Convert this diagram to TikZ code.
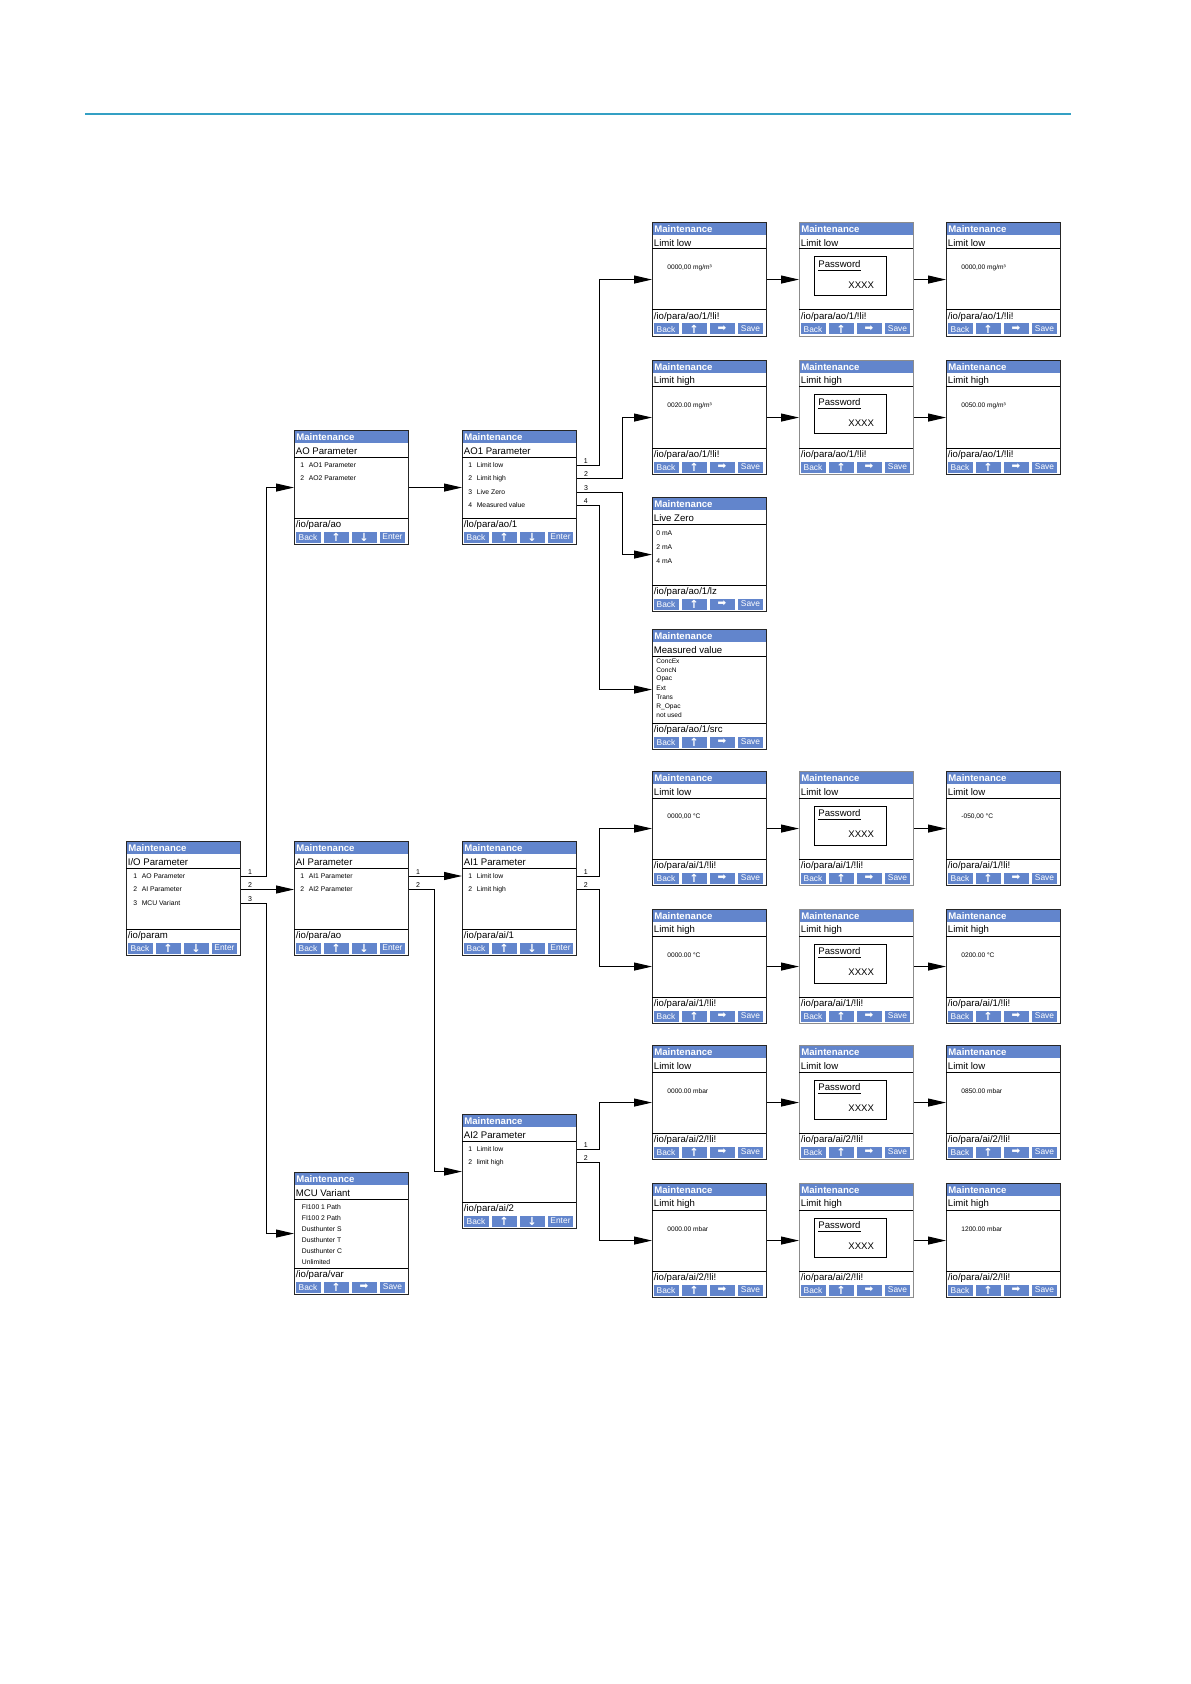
\documentclass[tikz,border=0pt]{standalone}
\usepackage{fontspec}
\setmainfont{Liberation Sans}
\newfontfamily\symfont{DejaVu Sans}
\usetikzlibrary{arrows.meta}
\definecolor{barblue}{RGB}{98,133,204}
\definecolor{rulecol}{RGB}{52,160,196}
\newcommand{\upkey}{{\symfont\bfseries\fontsize{5.6}{5}\selectfont ↑}}
\newcommand{\downkey}{{\symfont\bfseries\fontsize{5.6}{5}\selectfont ↓}}
\newcommand{\nextkey}{{\symfont\fontsize{5.2}{5}\selectfont ➡}}

\tikzset{
  scrn/.style={draw=black!85,line width=0.55pt,anchor=north west,inner sep=0,minimum width=57pt},
  ttl/.style={anchor=west,inner sep=0,text=white,font=\fontsize{4.8}{5}\selectfont\bfseries},
  sub/.style={anchor=west,inner sep=0,font=\fontsize{4.8}{5}\selectfont},
  item/.style={anchor=west,inner sep=0,font=\fontsize{3.4}{4}\selectfont},
  val/.style={anchor=west,inner sep=0,font=\fontsize{3.3}{4}\selectfont},
  pwd/.style={anchor=west,inner sep=0,font=\fontsize{4.8}{5}\selectfont},
  btn/.style={fill=barblue,text=white,inner sep=0,minimum width=12.5pt,minimum height=5.5pt,font=\fontsize{4.2}{4.5}\selectfont},
  num/.style={above,inner sep=0.6pt,font=\fontsize{3.5}{4}\selectfont},
  arr/.style={line width=0.5pt,-{Triangle[length=9pt,width=4pt]}},
}

% #1 name, #2 left, #3 top, #4 height, #5 title line, #6 path, #7/#8 last two keys, #9 body
\newcommand{\dispscreen}[9]{%
  \begin{scope}[shift={(#2,#3)}]
    \fill[barblue] (0,0) rectangle (114,13);
    \node[scrn,minimum height=#4*0.5pt] (#1) at (0,0) {};
    \draw[line width=0.5pt] (0,27) -- (114,27) (0,#4-26) -- (114,#4-26);
    \node[ttl] (#1-ttl) at (2,6.8) {Maintenance};
    \node[sub] (#1-sub) at (1.5,21.2) {#5};
    \node[sub] (#1-path) at (1.5,#4-18.8) {#6};
    \foreach \bx/\bt [count=\bi] in {1.5/Back,29.5/{\upkey},57.5/{#7},86/{#8}}
      \node[btn] (#1-b\bi) at (\bx+12.5,#4-7) {\bt};
    #9
  \end{scope}}

\begin{document}
\begin{tikzpicture}[x=0.5pt,y=-0.5pt]
\path[use as bounding box,fill=white] (0,0) rectangle (1190,1684);
\draw[rulecol,line width=0.6pt] (85,114) -- (1071,114);

\dispscreen{io}{126}{841}{114}{I/O Parameter}{/io/param}{\downkey}{Enter}{%
  \foreach \itm [count=\k] in {AO Parameter,AI Parameter,MCU Variant}
    \node[item] (io-\k) at (7,21.5+13.5*\k) {\makebox[4.2pt][l]{\k}\itm};}
\dispscreen{aopar}{294}{430}{114}{AO Parameter}{/io/para/ao}{\downkey}{Enter}{%
  \foreach \itm [count=\k] in {AO1 Parameter,AO2 Parameter}
    \node[item] (aopar-\k) at (6,21.5+13.5*\k) {\makebox[4.2pt][l]{\k}\itm};}
\dispscreen{ao1}{462}{430}{114}{AO1 Parameter}{/lo/para/ao/1}{\downkey}{Enter}{%
  \foreach \itm [count=\k] in {Limit low,Limit high,Live Zero,Measured value}
    \node[item] (ao1-\k) at (6,21.5+13.5*\k) {\makebox[4.2pt][l]{\k}\itm};}
\dispscreen{aipar}{294}{841}{114}{AI Parameter}{/io/para/ao}{\downkey}{Enter}{%
  \foreach \itm [count=\k] in {AI1 Parameter,AI2 Parameter}
    \node[item] (aipar-\k) at (6,21.5+13.5*\k) {\makebox[4.2pt][l]{\k}\itm};}
\dispscreen{ai1}{462}{841}{114}{AI1 Parameter}{/io/para/ai/1}{\downkey}{Enter}{%
  \foreach \itm [count=\k] in {Limit low,Limit high}
    \node[item] (ai1-\k) at (6,21.5+13.5*\k) {\makebox[4.2pt][l]{\k}\itm};}
\dispscreen{ai2}{462}{1114}{114}{AI2 Parameter}{/io/para/ai/2}{\downkey}{Enter}{%
  \foreach \itm [count=\k] in {Limit low,limit high}
    \node[item] (ai2-\k) at (6,21.5+13.5*\k) {\makebox[4.2pt][l]{\k}\itm};}
\dispscreen{mcu}{294}{1172}{122}{MCU Variant}{/io/para/var}{\nextkey}{Save}{%
  \foreach \itm [count=\k] in {FI100 1 Path,FI100 2 Path,Dusthunter S,Dusthunter T,Dusthunter C,Unlimited}
    \node[item] (mcu-\k) at (7.5,23.9+11.1*\k) {\itm};}
\dispscreen{lz}{652}{497}{114}{Live Zero}{/io/para/ao/1/lz}{\nextkey}{Save}{%
  \foreach \itm [count=\k] in {0 mA,2 mA,4 mA}
    \node[item] (lz-\k) at (4,22+14*\k) {\itm};}
\dispscreen{src}{652}{629}{120}{Measured value}{/io/para/ao/1/src}{\nextkey}{Save}{%
  \foreach \itm [count=\k] in {ConcEx,ConcN,Opac,Ext,Trans,R\_Opac,not used}
    \node[val] (src-\k) at (4,22.9+9.1*\k) {\itm};}

\foreach \nm/\yy/\sub/\pth/\va/\vb in {
  aolo/222/{Limit low}/{/io/para/ao/1/!li!}/{0000,00 mg/m³}/{0000,00 mg/m³},
  aohi/360/{Limit high}/{/io/para/ao/1/!li!}/{0020.00 mg/m³}/{0050.00 mg/m³},
  ai1lo/771/{Limit low}/{/io/para/ai/1/!li!}/{0000,00 °C}/{-050,00 °C},
  ai1hi/909/{Limit high}/{/io/para/ai/1/!li!}/{0000.00 °C}/{0200.00 °C},
  ai2lo/1045/{Limit low}/{/io/para/ai/2/!li!}/{0000.00 mbar}/{0850.00 mbar},
  ai2hi/1183/{Limit high}/{/io/para/ai/2/!li!}/{0000.00 mbar}/{1200.00 mbar}}{
  \dispscreen{\nm-a}{652}{\yy}{114}{\sub}{\pth}{\nextkey}{Save}{\node[val] (\nm-a-v) at (15,46) {\va};}
  \begin{scope}[scrn/.append style={draw=black!45}]
    \dispscreen{\nm-b}{799}{\yy}{114}{\sub}{\pth}{\nextkey}{Save}{%
      \draw[line width=0.5pt] (15,35) rectangle (87,74);
      \node[pwd] (\nm-b-pw) at (19,44.5) {\underline{Password}};
      \node[pwd] (\nm-b-x) at (49,63.5) {XXXX};}
  \end{scope}
  \dispscreen{\nm-c}{946}{\yy}{114}{\sub}{\pth}{\nextkey}{Save}{\node[val] (\nm-c-v) at (15,46) {\vb};}
  \draw[arr] (\nm-a) -- (\nm-b);
  \draw[arr] (\nm-b) -- (\nm-c);
}

\draw[arr] (io.east |- io-1) -- node[num,pos=0.36]{1} ++(25,0) |- (aopar.west);
\draw[arr] (io.east |- io-2) -- node[num,pos=0.17]{2} (aipar.west |- io-2);
\draw[arr] (io.east |- io-3) -- node[num,pos=0.36]{3} ++(25,0) |- (mcu.west);
\draw[arr] (aopar) -- (ao1);
\draw[arr] (ao1.east |- ao1-1) -- node[num,pos=0.4]{1} ++(22,0) |- (aolo-a.west);
\draw[arr] (ao1.east |- ao1-2) -- node[num,pos=0.2]{2} ++(45,0) |- (aohi-a.west);
\draw[arr] (ao1.east |- ao1-3) -- node[num,pos=0.2]{3} ++(45,0) |- (lz.west);
\draw[arr] (ao1.east |- ao1-4) -- node[num,pos=0.4]{4} ++(22,0) |- (src.west);
\draw[arr] (aipar.east |- aipar-1) -- node[num,pos=0.17]{1} (ai1.west |- aipar-1);
\draw[arr] (aipar.east |- aipar-2) -- node[num,pos=0.36]{2} ++(25,0) |- (ai2.west);
\draw[arr] (ai1.east |- ai1-1) -- node[num,pos=0.4]{1} ++(22,0) |- (ai1lo-a.west);
\draw[arr] (ai1.east |- ai1-2) -- node[num,pos=0.4]{2} ++(22,0) |- (ai1hi-a.west);
\draw[arr] (ai2.east |- ai2-1) -- node[num,pos=0.4]{1} ++(22,0) |- (ai2lo-a.west);
\draw[arr] (ai2.east |- ai2-2) -- node[num,pos=0.4]{2} ++(22,0) |- (ai2hi-a.west);
\end{tikzpicture}
\end{document}
